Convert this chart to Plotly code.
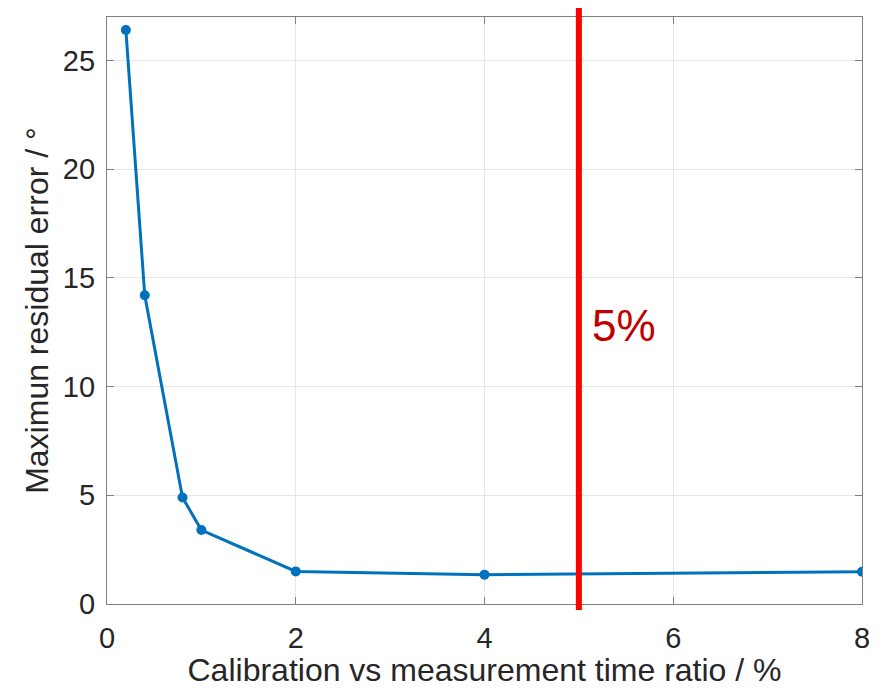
import plotly.graph_objects as go

ratio_pct = [0.2, 0.4, 0.8, 1.0, 2.0, 4.0, 8.0]
max_error_deg = [26.4, 14.2, 4.9, 3.4, 1.5, 1.35, 1.48]
threshold_pct = 5
threshold_label = "5%"
x_ticks = [0, 2, 4, 6, 8]
y_ticks = [0, 5, 10, 15, 20, 25]

FONT = "Liberation Sans, Arial, Helvetica, sans-serif"

fig = go.Figure()
fig.add_trace(go.Scatter(
    x=ratio_pct, y=max_error_deg, mode="lines+markers",
    line=dict(color="#0072BD", width=3),
    marker=dict(color="#0072BD", size=10),
    showlegend=False,
))

fig.add_shape(type="line", xref="x", yref="paper",
              x0=threshold_pct, x1=threshold_pct, y0=-0.0102, y1=1.0153,
              line=dict(color="#FF0000", width=6), layer="above")

fig.add_annotation(x=threshold_pct, y=12.8, xref="x", yref="y",
                   text=threshold_label, showarrow=False,
                   xanchor="left", xshift=11,
                   font=dict(family=FONT, size=44, color="#C00000"))

axis_common = dict(
    showgrid=True, gridcolor="#E6E6E6", gridwidth=1,
    showline=True, linecolor="#808080", linewidth=1.3, mirror="ticks",
    ticks="inside", ticklen=7, tickcolor="#808080", tickwidth=1.3,
    zeroline=False, automargin=False,
    tickfont=dict(family=FONT, size=29, color="#262626"),
)

fig.update_xaxes(range=[0, 8], tickvals=x_ticks, ticktext=[str(t) for t in x_ticks],
                 ticklabelstandoff=8,
                 title=dict(text="Calibration vs measurement time ratio / %", standoff=14,
                            font=dict(family=FONT, size=32, color="#262626")),
                 **axis_common)
fig.update_yaxes(range=[0, 27], tickvals=y_ticks, ticktext=[str(t) for t in y_ticks],
                 ticklabelstandoff=5,
                 title=dict(text="Maximun residual error / °", standoff=4,
                            font=dict(family=FONT, size=32, color="#262626")),
                 **axis_common)

fig.update_layout(
    width=873, height=680,
    margin=dict(l=99, r=19, t=9, b=84),
    plot_bgcolor="white", paper_bgcolor="white",
)

fig.write_html("out.html")
